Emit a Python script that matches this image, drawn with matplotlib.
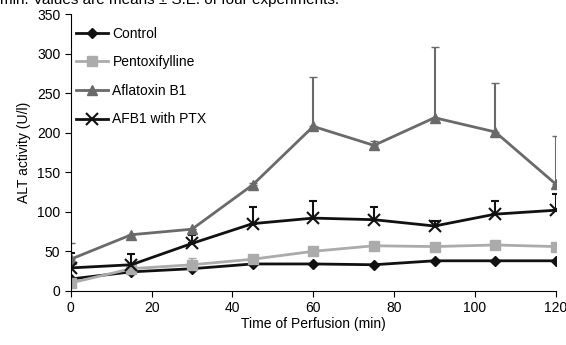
import matplotlib
matplotlib.use("Agg")
import matplotlib.pyplot as plt

time = [0, 15, 30, 45, 60, 75, 90, 105, 120]
control = [15, 24, 28, 34, 34, 33, 38, 38, 38]
control_err = [0, 0, 0, 0, 0, 0, 0, 0, 0]
pentox = [10, 28, 33, 40, 50, 57, 56, 58, 56]
pentox_err = [0, 0, 8, 0, 0, 0, 4, 0, 0]
aflatoxin = [40, 71, 78, 134, 208, 184, 219, 201, 135]
aflatoxin_err = [20, 0, 0, 3, 63, 6, 89, 62, 61]
afb1_ptx = [29, 33, 60, 85, 92, 90, 82, 97, 102]
afb1_ptx_err = [19, 14, 10, 21, 22, 16, 6, 17, 21]

series = [
    ("Control", control, control_err, "#111111", "D", 5),
    ("Pentoxifylline", pentox, pentox_err, "#ababab", "s", 7),
    ("Aflatoxin B1", aflatoxin, aflatoxin_err, "#6a6a6a", "^", 7),
    ("AFB1 with PTX", afb1_ptx, afb1_ptx_err, "#111111", "x", 8),
]

plt.rcParams['font.family'] = ['Liberation Sans', 'DejaVu Sans']

fig = plt.figure(figsize=(5.66, 3.45), dpi=100)
ax = fig.add_axes([0.125, 0.157, 0.857, 0.802])

handles = []
for name, y, err, col, mk, ms in series:
    c = ax.errorbar(time, y, yerr=[[0]*len(err), err], color=col, marker=mk,
                    markersize=ms, lw=2, elinewidth=1.5, capsize=3, capthick=1.5,
                    label=name, markeredgewidth=1.5 if mk == "x" else 1)
    handles.append(c[0])

ax.set_xlim(0, 120)
ax.set_ylim(0, 350)
ax.set_xticks(range(0, 121, 20))
ax.set_yticks(range(0, 351, 50))
ax.spines['top'].set_visible(False)
ax.spines['right'].set_visible(False)
ax.tick_params(labelsize=10, direction='out', length=4)
ax.set_xlabel("Time of Perfusion (min)", fontsize=10, labelpad=1)
ax.set_ylabel("ALT activity (U/l)", fontsize=10)
ax.legend(handles=handles, labels=[s[0] for s in series],
          loc='upper left', frameon=False, fontsize=10, handlelength=2.3,
          handletextpad=0.3, borderaxespad=0.0, labelspacing=1.05,
          bbox_to_anchor=(0.0, 0.975))

fig.text(0.0, 1.0, "min. Values are means \u00b1 S.E. of four experiments.",
         fontsize=11, va='center', ha='left')

fig.savefig("out.png", dpi=100)
